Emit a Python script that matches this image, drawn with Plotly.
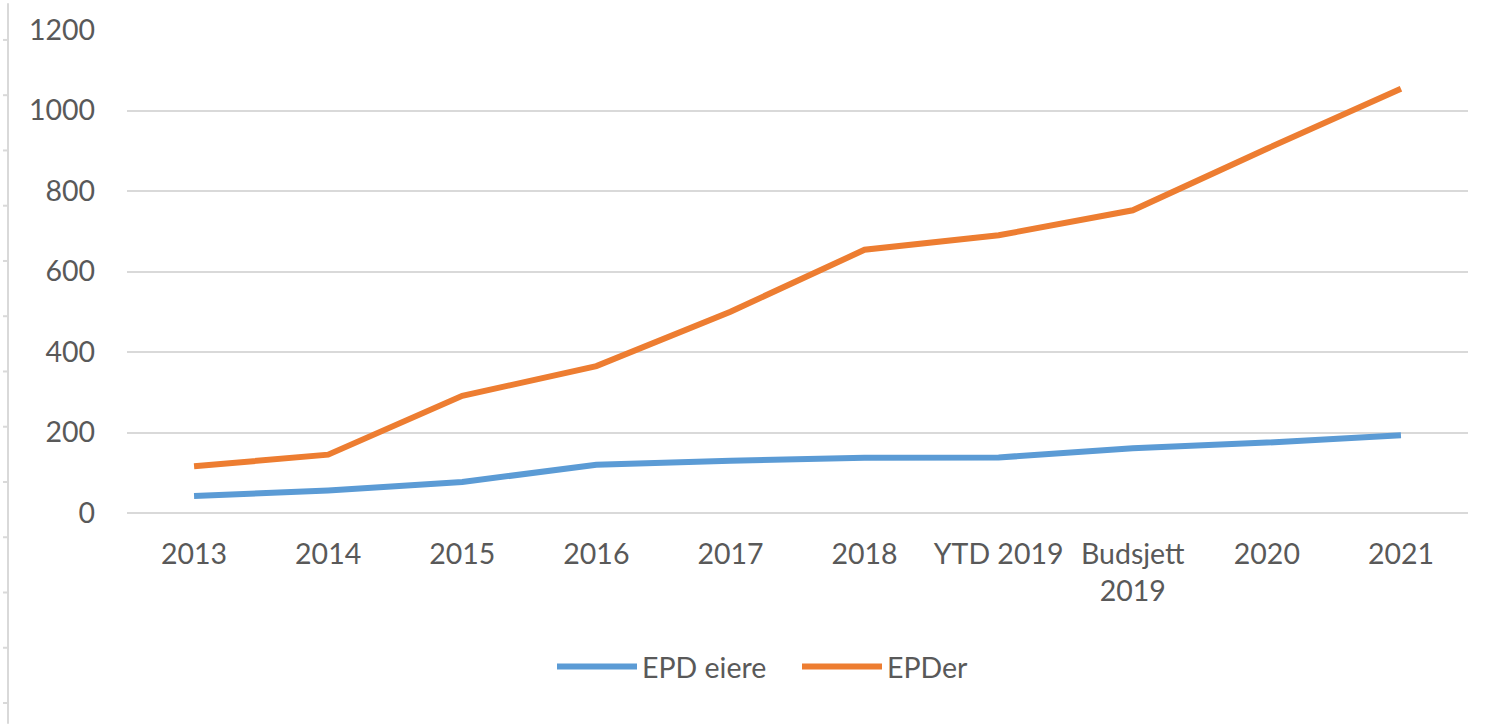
import plotly.graph_objects as go

categories = ["2013", "2014", "2015", "2016", "2017", "2018", "YTD 2019", "Budsjett<br>2019", "2020", "2021"]
epd_eiere = [42, 56, 77, 120, 130, 137, 138, 161, 175, 193]
epder = [116, 145, 291, 365, 500, 654, 690, 752, 905, 1054]
y_ticks = [0, 200, 400, 600, 800, 1000, 1200]

FONT = "Lato"
FS = 28.5
TXT = "#595959"
GRID = "#d9d9d9"

fig = go.Figure()
fig.add_trace(go.Scatter(x=categories, y=epd_eiere, mode="lines", name="EPD eiere",
                         line=dict(color="#5B9BD5", width=6)))
fig.add_trace(go.Scatter(x=categories, y=epder, mode="lines", name="EPDer",
                         line=dict(color="#ED7D31", width=6)))

W, H = 1500, 725
L, R, T, B = 127, 32, 27, 212
pw, ph = W - L - R, H - T - B

def px_to_paper_x(px):
    return (px - L) / pw

def px_to_paper_y(py):
    return (H - B - py) / ph

# decorative left border with small ticks (cropped axis artifact in the reference)
shapes = [dict(type="line", xref="paper", yref="paper",
               x0=px_to_paper_x(8), x1=px_to_paper_x(8),
               y0=px_to_paper_y(0), y1=px_to_paper_y(H),
               line=dict(color=GRID, width=2), layer="below")]
for i in range(13):
    py = 37 + 55.6 * i
    shapes.append(dict(type="line", xref="paper", yref="paper",
                       x0=px_to_paper_x(3), x1=px_to_paper_x(8),
                       y0=px_to_paper_y(py), y1=px_to_paper_y(py),
                       line=dict(color=GRID, width=2), layer="below"))

fig.update_layout(
    width=W, height=H,
    margin=dict(l=L, r=R, t=T, b=B, pad=0),
    paper_bgcolor="white", plot_bgcolor="white",
    font=dict(family=FONT, size=FS, color=TXT),
    showlegend=True,
    legend=dict(orientation="h", x=px_to_paper_x(797), xanchor="center",
                y=px_to_paper_y(668), yanchor="middle",
                font=dict(family=FONT, size=FS, color=TXT),
                itemwidth=80, entrywidth=150, entrywidthmode="pixels",
                traceorder="normal"),
    shapes=shapes,
    xaxis=dict(type="category", range=[-0.5, 9.5], showgrid=False, zeroline=False,
               showline=False, ticks="", tickfont=dict(family=FONT, size=FS, color=TXT),
               ticklabelstandoff=21, fixedrange=True),
    yaxis=dict(range=[0, 1200], tickvals=y_ticks, showgrid=True, gridcolor=GRID,
               gridwidth=1.5, zeroline=True, zerolinecolor=GRID, zerolinewidth=1.5,
               showline=False, ticks="", tickfont=dict(family=FONT, size=FS, color=TXT),
               ticklabelstandoff=31, fixedrange=True),
)

fig.write_html("out.html", config={"displayModeBar": False},
               post_script="document.body.style.margin='0';document.body.style.overflow='hidden';")
